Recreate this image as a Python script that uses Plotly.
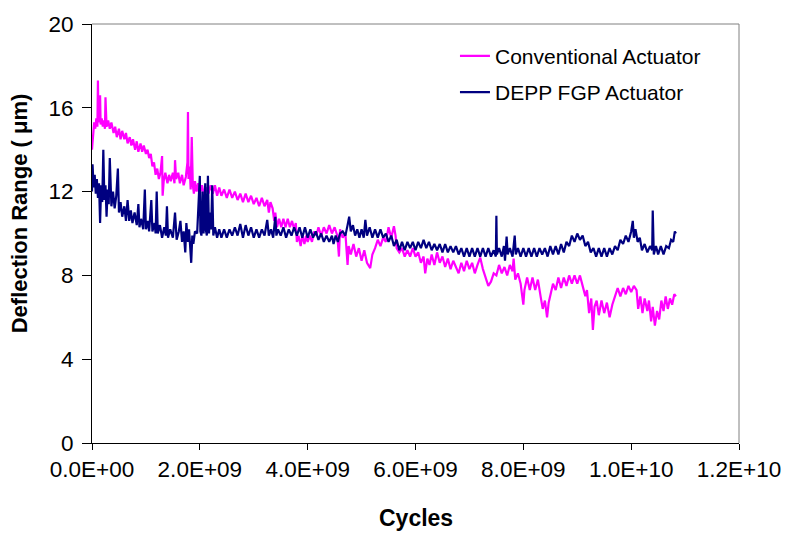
import plotly.graph_objects as go

# Cycles in units of 1E9
conv_cycles = [
    0.00, 0.02, 0.04, 0.06, 0.08, 0.10, 0.11, 0.12, 0.15, 0.16,
    0.18, 0.20, 0.22, 0.24, 0.25, 0.27, 0.30, 0.33, 0.36, 0.40,
    0.43, 0.46, 0.50, 0.53, 0.56, 0.60, 0.63, 0.66, 0.70, 0.73,
    0.76, 0.80, 0.83, 0.86, 0.90, 0.93, 0.96, 1.00, 1.03, 1.06,
    1.09, 1.12, 1.15, 1.18, 1.21, 1.24, 1.27, 1.30, 1.31, 1.33,
    1.36, 1.40, 1.43, 1.46, 1.50, 1.53, 1.54, 1.56, 1.60, 1.63,
    1.67, 1.70, 1.74, 1.77, 1.78, 1.79, 1.81, 1.83, 1.85, 1.87,
    1.89, 1.91, 1.94, 1.97, 2.00, 2.04, 2.08, 2.12, 2.16, 2.20,
    2.24, 2.28, 2.32, 2.36, 2.40, 2.45, 2.50, 2.55, 2.60, 2.65,
    2.70, 2.75, 2.80, 2.85, 2.90, 2.95, 3.00, 3.05, 3.10, 3.15,
    3.20, 3.25, 3.28, 3.31, 3.35, 3.38, 3.40, 3.43, 3.47, 3.51,
    3.55, 3.59, 3.63, 3.67, 3.71, 3.75, 3.78, 3.80, 3.83, 3.87,
    3.90, 3.94, 3.97, 4.00, 4.04, 4.08, 4.12, 4.16, 4.20, 4.25,
    4.30, 4.35, 4.40, 4.45, 4.50, 4.55, 4.58, 4.60, 4.65, 4.70,
    4.74, 4.76, 4.80, 4.85, 4.90, 4.95, 5.00, 5.05, 5.10, 5.16,
    5.20, 5.25, 5.30, 5.35, 5.40, 5.45, 5.50, 5.55, 5.60, 5.63,
    5.65, 5.70, 5.75, 5.80, 5.85, 5.90, 5.95, 6.00, 6.05, 6.10,
    6.15, 6.18, 6.22, 6.26, 6.30, 6.35, 6.40, 6.45, 6.50, 6.55,
    6.60, 6.65, 6.70, 6.75, 6.80, 6.85, 6.90, 6.95, 7.00, 7.05,
    7.10, 7.15, 7.20, 7.25, 7.30, 7.35, 7.40, 7.45, 7.50, 7.55,
    7.60, 7.65, 7.70, 7.75, 7.80, 7.82, 7.85, 7.90, 7.95, 8.00,
    8.02, 8.07, 8.12, 8.17, 8.22, 8.27, 8.32, 8.36, 8.40, 8.44,
    8.47, 8.50, 8.55, 8.60, 8.65, 8.70, 8.75, 8.80, 8.85, 8.90,
    8.95, 9.00, 9.05, 9.10, 9.15, 9.18, 9.22, 9.26, 9.29, 9.32,
    9.36, 9.40, 9.45, 9.50, 9.55, 9.60, 9.65, 9.70, 9.75, 9.80,
    9.85, 9.90, 9.95, 10.00, 10.05, 10.10, 10.13, 10.17, 10.21, 10.25,
    10.30, 10.33, 10.37, 10.40, 10.44, 10.48, 10.52, 10.56, 10.60, 10.64,
    10.68, 10.72, 10.76, 10.80, 10.83,
]
conv_range = [
    14.0, 14.9, 15.3, 15.0, 15.5, 15.1, 17.3, 15.3, 16.6, 15.2,
    15.5, 15.1, 15.4, 15.0, 16.5, 15.1, 15.4, 15.0, 15.3, 14.8,
    15.1, 14.6, 15.0, 14.5, 14.9, 14.5, 14.8, 14.3, 14.6, 14.2,
    14.5, 14.0, 14.4, 13.9, 14.3, 13.9, 14.2, 13.8, 14.0, 13.6,
    13.8, 13.2, 13.4, 12.8, 13.1, 12.6, 12.9, 13.7, 11.8, 12.5,
    12.9, 12.4, 12.8, 12.5, 12.9, 12.4, 13.5, 12.6, 12.9, 12.4,
    12.8, 12.3, 12.7, 13.4, 15.8, 12.6, 13.2, 12.1, 14.6, 12.3,
    11.9, 12.5, 12.0, 12.4, 11.9, 12.3, 11.8, 12.2, 11.9, 12.3,
    11.9, 12.3, 11.8, 12.2, 11.8, 12.1, 11.7, 12.1, 11.7, 12.0,
    11.6, 11.9, 11.5, 11.9, 11.5, 11.8, 11.4, 11.7, 11.3, 11.7,
    11.3, 11.6, 11.0, 11.5, 11.2, 10.6, 11.0, 10.3, 10.7, 10.3,
    10.7, 10.3, 10.7, 10.3, 10.6, 10.2, 10.5, 9.6, 9.9, 9.4,
    9.9, 9.5, 9.9, 9.6, 9.9, 9.6, 10.1, 9.9, 10.3, 9.9,
    10.3, 10.0, 10.4, 10.0, 10.3, 9.9, 8.9, 10.2, 9.8, 10.0,
    8.5, 9.4, 9.0, 9.5, 8.9, 9.3, 8.7, 9.2, 8.6, 8.35,
    9.0, 9.3, 9.7, 9.4, 9.8, 9.6, 10.3, 9.8, 10.35, 9.9,
    9.3, 9.1, 9.3, 8.9, 9.2, 8.9, 9.3, 8.9, 9.1, 8.6,
    8.9, 8.1, 8.8, 8.5, 9.0, 8.5, 9.1, 8.6, 8.9, 8.4,
    8.8, 8.3, 8.7, 8.4, 8.1, 8.6, 8.2, 8.7, 8.3, 8.6,
    8.1, 8.5, 8.85, 8.3, 7.9, 7.5, 7.7, 8.1, 8.0, 8.5,
    8.1, 8.4, 8.0, 8.5, 8.2, 8.8, 7.8, 8.1, 7.6, 6.6,
    7.3, 7.9, 7.3, 7.9, 7.3, 7.8, 7.0, 6.4, 6.8, 6.0,
    6.7, 7.1, 7.6, 7.3, 7.9, 7.4, 7.9, 7.5, 8.0, 7.6,
    8.0, 7.6, 8.0, 7.5, 7.0, 7.3, 6.2, 6.9, 5.4, 6.5,
    6.8, 6.1, 6.8, 6.2, 6.7, 6.0, 6.6, 7.0, 7.4, 7.0,
    7.4, 7.1, 7.5, 7.2, 7.5, 7.3, 6.4, 7.0, 6.2, 6.9,
    6.3, 6.8, 5.8, 6.5, 5.6, 6.3, 5.9, 6.8, 6.3, 7.0,
    6.4, 6.9, 6.6, 7.1, 7.0,
]

depp_cycles = [
    0.00, 0.01, 0.03, 0.05, 0.07, 0.09, 0.11, 0.13, 0.15, 0.17,
    0.19, 0.21, 0.23, 0.25, 0.27, 0.29, 0.31, 0.33, 0.36, 0.39,
    0.42, 0.45, 0.48, 0.50, 0.53, 0.56, 0.60, 0.63, 0.66, 0.69,
    0.72, 0.75, 0.79, 0.83, 0.86, 0.88, 0.91, 0.95, 0.98, 1.00,
    1.03, 1.06, 1.10, 1.12, 1.16, 1.18, 1.20, 1.22, 1.26, 1.30,
    1.34, 1.37, 1.39, 1.41, 1.45, 1.50, 1.54, 1.57, 1.61, 1.64,
    1.67, 1.70, 1.73, 1.75, 1.78, 1.80, 1.84, 1.86, 1.88, 1.91,
    1.95, 1.97, 2.00, 2.01, 2.03, 2.05, 2.07, 2.10, 2.11, 2.13,
    2.15, 2.17, 2.19, 2.21, 2.23, 2.25, 2.28, 2.32, 2.36, 2.40,
    2.45, 2.50, 2.55, 2.60, 2.65, 2.70, 2.75, 2.80, 2.85, 2.90,
    2.95, 3.00, 3.05, 3.10, 3.15, 3.20, 3.25, 3.28, 3.32, 3.36,
    3.40, 3.42, 3.45, 3.50, 3.55, 3.60, 3.65, 3.70, 3.75, 3.80,
    3.85, 3.90, 3.95, 4.00, 4.05, 4.10, 4.15, 4.20, 4.25, 4.30,
    4.35, 4.40, 4.45, 4.48, 4.52, 4.56, 4.60, 4.65, 4.70, 4.74,
    4.77, 4.80, 4.84, 4.88, 4.92, 4.96, 5.00, 5.04, 5.07, 5.10,
    5.15, 5.20, 5.25, 5.30, 5.35, 5.40, 5.45, 5.50, 5.55, 5.60,
    5.65, 5.70, 5.75, 5.80, 5.85, 5.90, 5.95, 6.00, 6.05, 6.10,
    6.15, 6.20, 6.25, 6.30, 6.35, 6.40, 6.45, 6.50, 6.55, 6.60,
    6.65, 6.70, 6.75, 6.80, 6.85, 6.90, 6.95, 7.00, 7.05, 7.10,
    7.15, 7.20, 7.25, 7.30, 7.35, 7.40, 7.45, 7.49, 7.50, 7.51,
    7.55, 7.60, 7.64, 7.66, 7.69, 7.71, 7.75, 7.80, 7.84, 7.86,
    7.90, 7.95, 8.00, 8.05, 8.10, 8.15, 8.20, 8.25, 8.30, 8.35,
    8.40, 8.45, 8.50, 8.55, 8.60, 8.65, 8.70, 8.75, 8.80, 8.85,
    8.90, 8.95, 9.00, 9.05, 9.10, 9.15, 9.20, 9.25, 9.30, 9.35,
    9.40, 9.45, 9.50, 9.55, 9.60, 9.65, 9.70, 9.75, 9.80, 9.85,
    9.90, 9.95, 10.00, 10.03, 10.05, 10.08, 10.12, 10.16, 10.20, 10.25,
    10.30, 10.35, 10.39, 10.40, 10.42, 10.46, 10.50, 10.55, 10.60, 10.65,
    10.70, 10.74, 10.78, 10.81, 10.83,
]
depp_range = [
    12.0, 13.3, 12.2, 12.8, 11.9, 12.6, 11.7, 12.4, 10.5, 12.3,
    11.5, 14.0, 11.6, 12.3, 10.8, 12.1, 11.4, 13.6, 11.3, 12.0,
    11.2, 11.8, 13.1, 11.0, 11.5, 10.8, 11.3, 10.6, 11.6, 10.6,
    11.1, 10.5, 11.0, 10.4, 11.4, 10.3, 10.7, 10.2, 12.1, 10.2,
    10.6, 10.1, 11.6, 10.1, 10.5, 10.0, 12.0, 10.0, 10.4, 9.8,
    10.3, 9.9, 11.3, 9.8, 10.2, 9.8, 11.0, 9.7, 10.1, 10.6,
    9.6, 10.1, 9.1, 10.5, 9.6, 10.2, 8.6, 9.9, 9.5, 10.1,
    10.0, 11.5, 12.75, 10.1, 9.9, 12.0, 10.0, 12.4, 10.2, 9.9,
    12.75, 10.0, 11.0, 10.2, 12.3, 9.9, 10.3, 9.8, 10.2, 9.8,
    10.2, 9.8, 10.2, 9.9, 10.3, 9.9, 10.45, 9.8, 10.4, 9.9,
    10.3, 9.8, 10.2, 9.8, 10.2, 9.9, 10.65, 9.9, 10.2, 9.8,
    10.8, 9.9, 10.2, 9.9, 10.3, 9.8, 10.2, 9.9, 10.3, 9.9,
    10.3, 9.8, 10.3, 9.8, 10.2, 9.8, 10.1, 9.7, 10.0, 9.6,
    9.9, 9.6, 9.9, 9.5, 9.9, 9.6, 10.0, 10.1, 9.9, 10.4,
    10.8, 10.1, 10.4, 9.9, 10.2, 9.8, 10.2, 9.8, 10.65, 9.9,
    10.3, 9.8, 10.2, 9.8, 10.2, 9.8, 10.0, 9.6, 9.9, 9.4,
    9.7, 9.2, 9.6, 9.2, 9.6, 9.3, 9.6, 9.2, 9.6, 9.3,
    9.7, 9.3, 9.6, 9.2, 9.5, 9.2, 9.5, 9.1, 9.5, 9.1,
    9.4, 9.1, 9.4, 9.0, 9.3, 8.9, 9.3, 8.9, 9.3, 8.9,
    9.3, 8.9, 9.3, 8.9, 9.3, 8.9, 9.2, 8.9, 10.85, 9.0,
    9.3, 8.9, 9.4, 8.7, 9.85, 9.0, 9.3, 8.9, 9.9, 9.0,
    9.3, 8.9, 9.3, 8.9, 9.3, 8.9, 9.3, 8.9, 9.3, 9.0,
    9.3, 8.9, 9.4, 9.0, 9.4, 9.0, 9.5, 9.1, 9.6, 9.4,
    9.9, 9.6, 10.0, 9.7, 9.9, 9.4, 9.6, 9.1, 9.3, 8.9,
    9.3, 8.9, 9.3, 8.9, 9.3, 9.0, 9.4, 9.2, 9.7, 9.5,
    9.9, 9.6, 10.1, 10.6, 9.8, 10.2, 9.6, 9.8, 9.2, 9.5,
    9.1, 9.4, 9.2, 11.1, 9.0, 9.4, 9.0, 9.4, 9.0, 9.4,
    9.3, 9.7, 9.6, 10.1, 10.0,
]

x_tick_vals = [0, 2e9, 4e9, 6e9, 8e9, 1e10, 1.2e10]
x_tick_labels = ["0.0E+00", "2.0E+09", "4.0E+09", "6.0E+09", "8.0E+09", "1.0E+10", "1.2E+10"]
y_tick_vals = [0, 4, 8, 12, 16, 20]

assert len(conv_cycles) == len(conv_range)
assert len(depp_cycles) == len(depp_range)

FONT = "Liberation Sans, Arial, sans-serif"

fig = go.Figure()
fig.add_trace(go.Scatter(
    x=[c * 1e9 for c in conv_cycles], y=conv_range, mode="lines",
    name="Conventional Actuator", legendgroup="a",
    line=dict(color="#FF00FF", width=2.2),
))
fig.add_trace(go.Scatter(
    x=[c * 1e9 for c in depp_cycles], y=depp_range, mode="lines",
    name="DEPP FGP Actuator", legendgroup="b",
    line=dict(color="#000080", width=2.2),
))

fig.update_layout(
    width=794, height=533,
    margin=dict(l=92, r=55, t=12, b=90),
    paper_bgcolor="white", plot_bgcolor="white",
    font=dict(family=FONT, color="black", size=22),
    showlegend=True,
    legend=dict(
        x=0.561, y=0.972, xanchor="left", yanchor="top",
        bgcolor="rgba(0,0,0,0)", borderwidth=0,
        font=dict(size=21, family=FONT, color="black"),
        tracegroupgap=6,
    ),
    xaxis=dict(
        range=[0, 1.2e10], tickvals=x_tick_vals, ticktext=x_tick_labels,
        ticks="outside", ticklen=6, tickcolor="black", tickwidth=1,
        showline=True, linecolor="black", linewidth=1,
        showgrid=False, zeroline=False,
        tickfont=dict(size=22.5, family=FONT),
        ticklabeloverflow="allow",
    ),
    yaxis=dict(
        range=[0, 20], tickvals=y_tick_vals,
        ticks="outside", ticklen=9, tickcolor="black", tickwidth=1,
        showline=True, linecolor="black", linewidth=1,
        showgrid=False, zeroline=False,
        tickfont=dict(size=22.5, family=FONT),
        ticklabelstandoff=4,
        ticklabeloverflow="allow",
    ),
    shapes=[
        dict(type="line", xref="paper", yref="paper", x0=0, x1=1, y0=1, y1=1,
             line=dict(color="#808080", width=1)),
        dict(type="line", xref="paper", yref="paper", x0=1, x1=1, y0=0, y1=1,
             line=dict(color="#808080", width=1)),
    ],
    annotations=[
        dict(text="<b>Deflection Range ( μm)</b>", xref="paper", yref="paper",
             x=-0.113, y=0.548, textangle=-90, showarrow=False,
             font=dict(size=22, family=FONT), xanchor="center", yanchor="middle"),
        dict(text="<b>Cycles</b>", xref="paper", yref="paper",
             x=0.5, y=-0.179, showarrow=False,
             font=dict(size=23, family=FONT), xanchor="center", yanchor="middle"),
    ],
)

fig.write_html("out.html")
